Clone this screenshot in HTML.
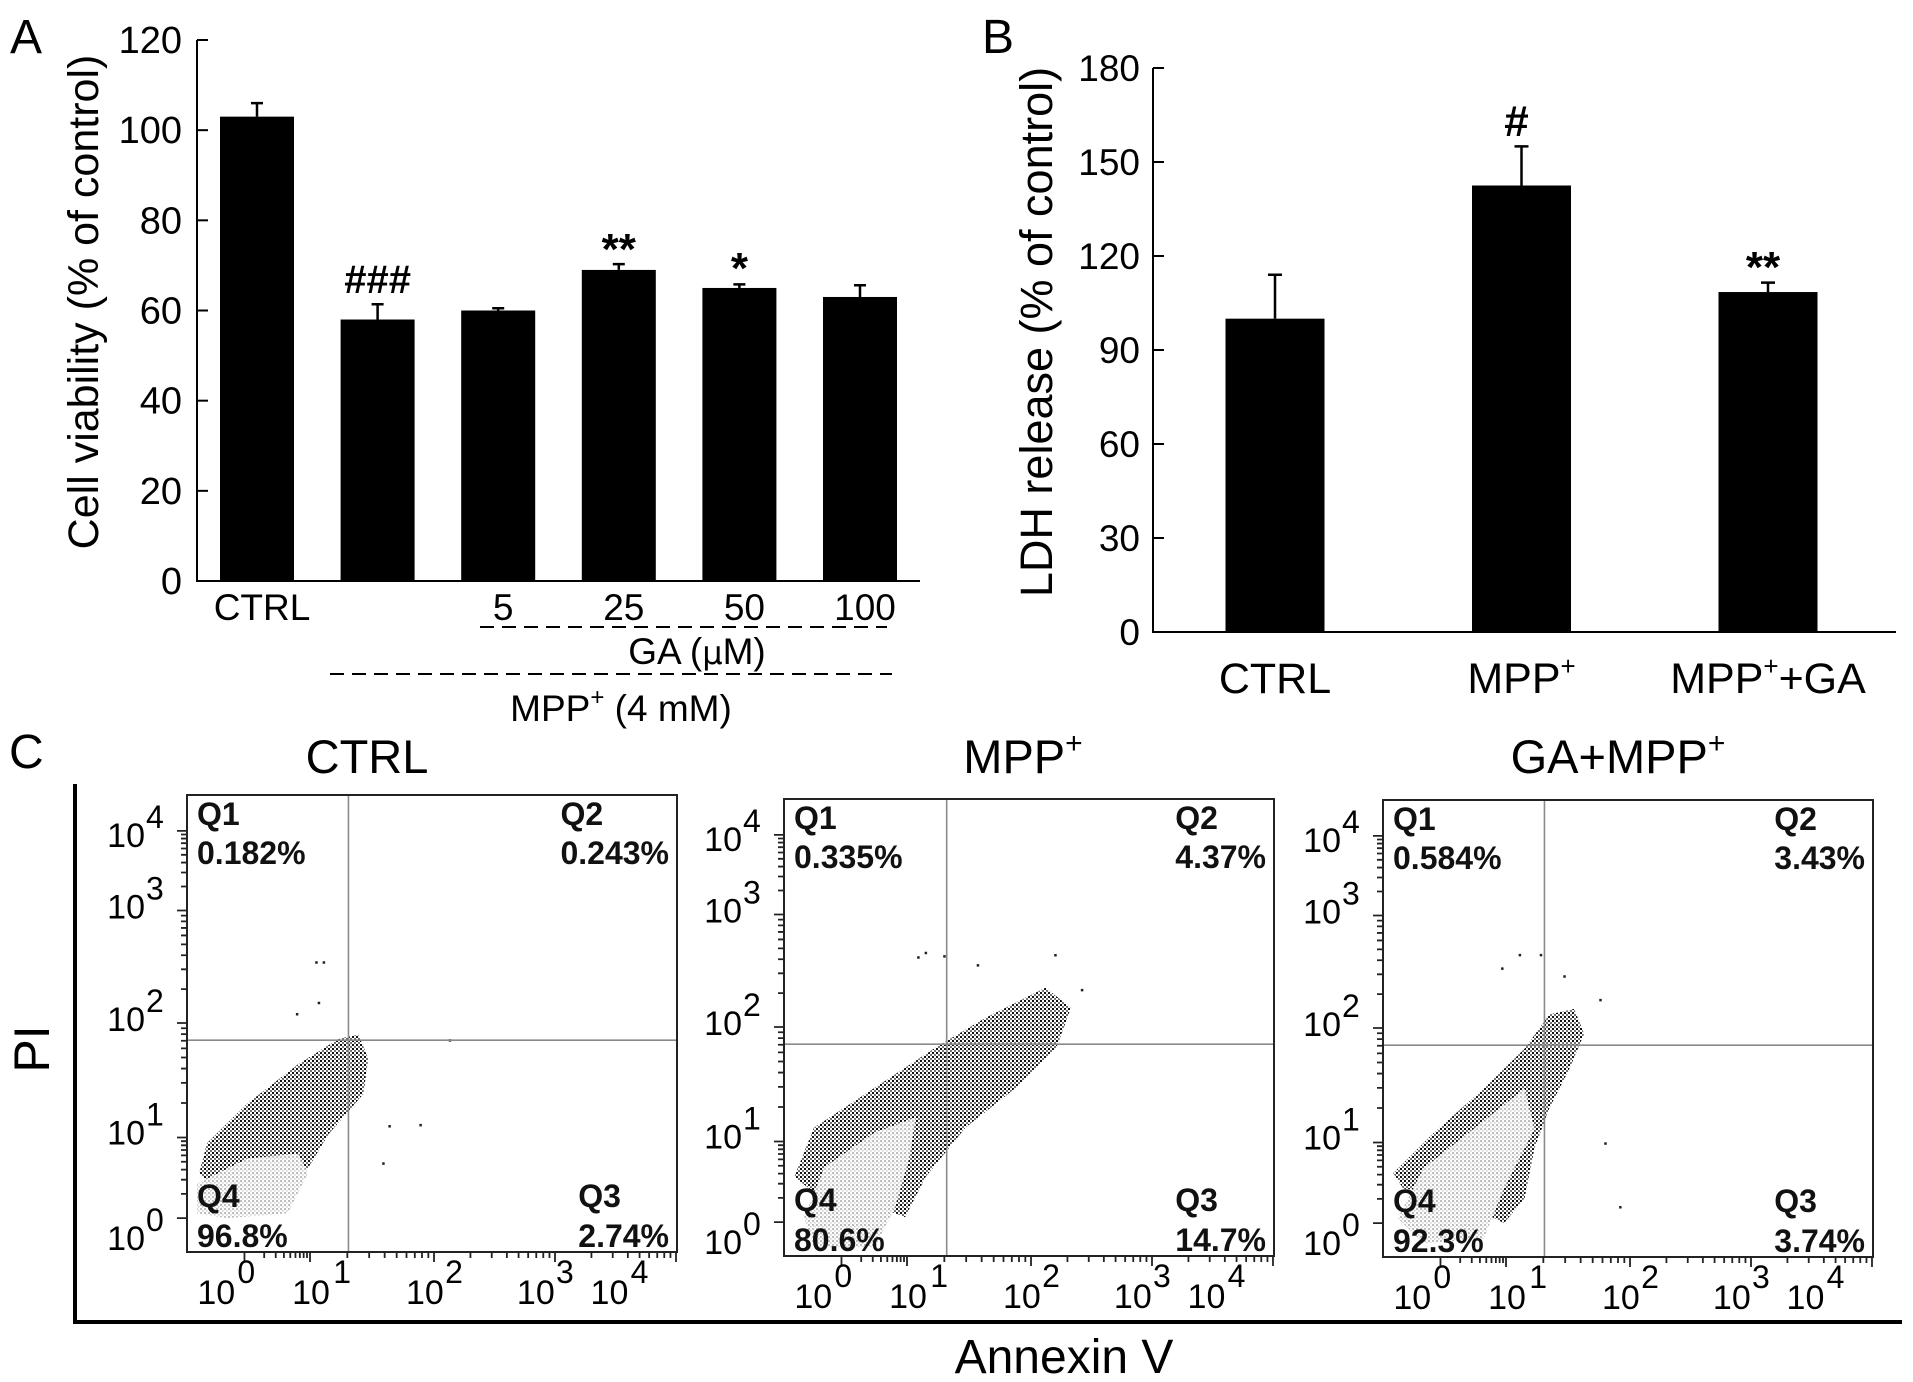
<!DOCTYPE html>
<html><head><meta charset="utf-8"><title>GA / MPP+ figure</title>
<style>
html,body{margin:0;padding:0;background:#fff;}
svg{display:block;font-family:"Liberation Sans",Arial,sans-serif;}
</style></head>
<body>
<svg id="fig" width="1913" height="1382" viewBox="0 0 1913 1382" xmlns="http://www.w3.org/2000/svg">
<defs>
<pattern id="dotsBlack" width="4" height="4" patternUnits="userSpaceOnUse">
<rect x="0" y="0" width="2" height="2" fill="#111"/><rect x="2.2" y="2.2" width="1.6" height="1.6" fill="#222"/>
</pattern>
<pattern id="dotsGray" width="4" height="4" patternUnits="userSpaceOnUse">
<rect x="0" y="0" width="4" height="4" fill="#fff"/><rect x="0" y="0" width="2" height="2" fill="#bdbdbd"/><rect x="2" y="2" width="1.6" height="1.6" fill="#cfcfcf"/>
</pattern>
</defs>
<g id="root"></g>
</svg>
<script>
// ---------- Panel A data ----------
const A_categories = ['CTRL', '', '5', '25', '50', '100'];
const A_values = [103, 58, 60, 69, 65, 63];
const A_errors = [3, 3.4, 0.5, 1.3, 0.8, 2.6];
const A_signif = ['', '###', '', '**', '*', ''];
const A_ticks = [0, 20, 40, 60, 80, 100, 120];
// ---------- Panel B data ----------
const B_categories = ['CTRL', 'MPP+', 'MPP++GA'];
const B_values = [100, 142.5, 108.5];
const B_errors = [14, 12.5, 3];
const B_signif = ['', '#', '**'];
const B_ticks = [0, 30, 60, 90, 120, 150, 180];
// ---------- Panel C data (log10 units) ----------
const C_titles = ['CTRL', 'MPP', 'GA+MPP'];
const C_q1 = ['0.182%', '0.335%', '0.584%'];
const C_q2 = ['0.243%', '4.37%', '3.43%'];
const C_q3 = ['2.74%', '14.7%', '3.74%'];
const C_q4 = ['96.8%', '80.6%', '92.3%'];
const C_decades = [0, 1, 2, 3, 4];
const C_gateX = [1.31, 1.32, 1.31];
const C_gateY = [1.85, 1.85, 1.85];
const C_blackCloud = [
  [[-0.69,0.56],[-0.57,0.93],[0.05,1.30],[0.82,1.64],[1.23,1.86],[1.39,1.90],[1.47,1.69],[1.43,1.38],[1.15,1.03],[0.97,0.62],[0.66,0.31],[0.05,0.37],[-0.49,0.37]],
  [[-0.72,0.56],[-0.42,1.12],[0.51,1.47],[1.23,1.82],[1.63,2.08],[2.12,2.35],[2.33,2.17],[2.21,1.82],[1.88,1.47],[1.47,1.12],[1.15,0.56],[0.97,0.06],[0.2,0.31],[-0.42,0.37]],
  [[-0.72,0.62],[-0.11,1.08],[0.66,1.47],[1.15,1.82],[1.35,2.12],[1.55,2.17],[1.63,1.95],[1.51,1.64],[1.35,1.30],[1.23,0.93],[1.15,0.31],[0.97,0],[0.05,0.37],[-0.57,0.43]]
];
const C_grayCloud = [
  [[-0.72,0.43],[0.05,0.74],[0.82,0.80],[0.97,0.56],[0.66,0.06],[-0.26,0],[-0.72,0.06]],
  [[-0.57,0.06],[-0.26,0.68],[0.51,1.08],[1.07,1.21],[1.02,0.80],[0.82,0.19],[0.51,-0.31],[-0.42,-0.31]],
  [[-0.65,0.06],[-0.26,0.68],[0.51,1.12],[1.15,1.47],[1.23,1.12],[0.97,0.43],[0.66,-0.19],[-0.26,-0.25]]
];
const C_outliersX = [
  [1.05,1.11,1.07,0.80,2.13,1.89,1.59,1.64],
  [1.09,1.15,1.30,1.57,2.20,2.42],
  [1.11,1.28,0.94,1.47,1.76,1.92,1.80]
];
const C_outliersY = [
  [2.54,2.54,2.18,2.08,1.85,1.11,0.68,1.10],
  [2.62,2.66,2.63,2.55,2.64,2.33],
  [2.65,2.65,2.53,2.46,2.25,0.20,0.99]
];

const NS = 'http://www.w3.org/2000/svg';
const root = document.getElementById('root');
function mk(tag, attrs, parent) {
  const e = document.createElementNS(NS, tag);
  for (const k in attrs) e.setAttribute(k, attrs[k]);
  (parent || root).appendChild(e);
  return e;
}
function txt(s, attrs, parent) { const t = mk('text', attrs, parent); t.textContent = s; return t; }

// ================= PANEL A =================
const gA = mk('g', {});


const A_y0 = 581, A_ppu = 541 / 120;
function yA(v) { return A_y0 - v * A_ppu; }
function xA(i) { return 257 + i * 120.6; }
const A_barW = 74;

let l = txt('A', {x: 10, y: 53, 'font-size': 48}, gA);
 

let ax = mk('line', {x1: 197, y1: yA(120), x2: 197, y2: A_y0 + 1, stroke: '#000', 'stroke-width': 2}, gA);
 
ax = mk('line', {x1: 196, y1: A_y0, x2: 920, y2: A_y0, stroke: '#000', 'stroke-width': 2}, gA);
 

A_ticks.forEach(v => {
  const t = mk('line', {x1: 197, y1: yA(v), x2: 208, y2: yA(v), stroke: '#000', 'stroke-width': 2}, gA);
   
  const lb = txt(String(v), {x: 182, y: yA(v) + 13, 'text-anchor': 'end', 'font-size': 38}, gA);
   
});

A_values.forEach((v, i) => {
  const b = mk('rect', {x: xA(i) - A_barW / 2, y: yA(v), width: A_barW, height: A_y0 - yA(v), fill: '#000'}, gA);
  
  
  const top = yA(v + A_errors[i]);
  const eb = mk('path', {d: `M${xA(i)},${yA(v)}V${top}M${xA(i) - 6},${top}H${xA(i) + 6}`, stroke: '#000', 'stroke-width': 2.5, fill: 'none'}, gA);
   
  if (A_categories[i]) {
    const c = txt(A_categories[i], {x: xA(i) + 5, y: 620, 'text-anchor': 'middle', 'font-size': 37}, gA);
     
  }
  if (A_signif[i]) {
    const s = A_signif[i];
    const isStar = s.indexOf('*') >= 0;
    const st = txt(s, {x: xA(i), y: isStar ? (s === '**' ? 264 : 283) : 293, 'text-anchor': 'middle', 'font-size': isStar ? 44 : 40, 'font-weight': 'bold'}, gA);
     
  }
});

const yTitleA = txt('Cell viability (% of control)', {x: 0, y: 0, 'font-size': 43, 'text-anchor': 'middle', transform: 'translate(98,302) rotate(-90)'}, gA);
 

let dl = mk('line', {x1: 480, y1: 627, x2: 887, y2: 627, stroke: '#000', 'stroke-width': 2, 'stroke-dasharray': '14 8'}, gA);
 
let gl = txt('', {x: 697, y: 664, 'text-anchor': 'middle', 'font-size': 37}, gA);
gl.innerHTML = 'GA (<tspan font-family="DejaVu Sans, sans-serif" font-size="32">μ</tspan>M)';
 
dl = mk('line', {x1: 330, y1: 674, x2: 892, y2: 674, stroke: '#000', 'stroke-width': 2, 'stroke-dasharray': '14 8'}, gA);
 
gl = txt('', {x: 621, y: 721, 'text-anchor': 'middle', 'font-size': 37}, gA);
gl.innerHTML = 'MPP<tspan font-size="24" dy="-16">+</tspan><tspan dy="16"> (4 mM)</tspan>';
 

// ================= PANEL B =================
const gB = mk('g', {});


const B_y0 = 632, B_ppu = 564 / 180;
function yB(v) { return B_y0 - v * B_ppu; }
function xB(i) { return 1275 + i * 246.5; }
const B_barW = 99;

l = txt('B', {x: 982, y: 53, 'font-size': 48}, gB);
 
ax = mk('line', {x1: 1153, y1: yB(180), x2: 1153, y2: B_y0 + 1, stroke: '#000', 'stroke-width': 2}, gB);
 
ax = mk('line', {x1: 1152, y1: B_y0, x2: 1896, y2: B_y0, stroke: '#000', 'stroke-width': 2}, gB);
 
B_ticks.forEach(v => {
  const t = mk('line', {x1: 1153, y1: yB(v), x2: 1164, y2: yB(v), stroke: '#000', 'stroke-width': 2}, gB);
   
  const lb = txt(String(v), {x: 1140, y: yB(v) + 13, 'text-anchor': 'end', 'font-size': 37}, gB);
   
});
B_values.forEach((v, i) => {
  const b = mk('rect', {x: xB(i) - B_barW / 2, y: yB(v), width: B_barW, height: B_y0 - yB(v), fill: '#000'}, gB);
  
  
  const top = yB(v + B_errors[i]);
  const eb = mk('path', {d: `M${xB(i)},${yB(v)}V${top}M${xB(i) - 7},${top}H${xB(i) + 7}`, stroke: '#000', 'stroke-width': 2.5, fill: 'none'}, gB);
   
  const c = txt('', {x: xB(i), y: 693, 'text-anchor': 'middle', 'font-size': 43}, gB);
  const s0 = B_categories[i];
  const k = s0.indexOf('+');
  if (k < 0) c.textContent = s0;
  else c.innerHTML = s0.slice(0, k) + '<tspan font-size="26" dy="-18">+</tspan><tspan dy="18">' + s0.slice(k + 1) + '</tspan>';
   
  if (B_signif[i]) {
    const s = B_signif[i];
    const isStar = s === '**';
    const st = txt(s, {x: xB(i) - 5, y: isStar ? 282 : 136, 'text-anchor': 'middle', 'font-size': 44, 'font-weight': 'bold'}, gB);
     
  }
});
const yTitleB = txt('LDH release (% of control)', {x: 0, y: 0, 'font-size': 45, 'text-anchor': 'middle', transform: 'translate(1052,332) rotate(-90)'}, gB);
 

// ================= PANEL C =================
const gC = mk('g', {});


l = txt('C', {x: 9, y: 768, 'font-size': 48}, gC);
 
const bigAx = mk('path', {d: 'M75,784V1322H1902', stroke: '#000', 'stroke-width': 4, fill: 'none'}, gC);
 
const piT = txt('PI', {x: 0, y: 0, 'font-size': 50, 'text-anchor': 'middle', transform: 'translate(49,1049) rotate(-90)'}, gC);
 
const anT = txt('Annexin V', {x: 1064, y: 1373, 'font-size': 48, 'text-anchor': 'middle'}, gC);
 

const C_left = [187, 784, 1383], C_top = [795, 799, 800], C_titleX = [367, 1023, 1618];
const PW = 490, PH = 457;
const xDecPx = [57, 122, 245, 365, 485];
const yDecPx = [425, 344, 229, 116, 36];
function interp(v, px) {
  if (v <= 1) return px[0] + (v - 0) * (px[1] - px[0]);
  const i = Math.min(Math.floor(v), 3);
  return px[i] + (v - i) * (px[i + 1] - px[i]);
}
function xC(p, v) { return C_left[p] + interp(v, xDecPx) * PW / 486; }
function yC(p, v) { return C_top[p] + interp(v, yDecPx) * PH / 459; }
const xLblRel = [29, 123, 236, 346, 419], xSupRel = [50, 145, 256, 366, 440];
const yLblRel = [457, 351, 237, 124, 52];

for (let p = 0; p < 3; p++) {
  const g = mk('g', {}, gC);
  
  
  const L = C_left[p], T = C_top[p];
  const tt = txt('', {x: C_titleX[p], y: 773, 'text-anchor': 'middle', 'font-size': 47}, g);
  tt.innerHTML = p === 0 ? 'CTRL' : C_titles[p] + '<tspan font-size="30" dy="-20">+</tspan>';
   

  const clip = mk('clipPath', {id: 'clip' + p}, g);
  mk('rect', {x: L, y: T, width: PW, height: PH}, clip);
  const cg = mk('g', {'clip-path': `url(#clip${p})`}, g);

  const bc = mk('polygon', {points: C_blackCloud[p].map(q => xC(p, q[0]) + ',' + yC(p, q[1])).join(' '), fill: 'url(#dotsBlack)'}, cg);
   
  const gc = mk('polygon', {points: C_grayCloud[p].map(q => xC(p, q[0]) + ',' + yC(p, q[1])).join(' '), fill: 'url(#dotsGray)'}, cg);
   
  C_outliersX[p].forEach((vx, k) => {
    const d = mk('rect', {x: xC(p, vx) - 1, y: yC(p, C_outliersY[p][k]) - 1, width: 2.5, height: 2.5, fill: '#222'}, cg);
     
  });

  const gx = xC(p, C_gateX[p]), gy = yC(p, C_gateY[p]);
  let q = mk('line', {x1: gx, y1: T, x2: gx, y2: T + PH, stroke: '#8a8a8a', 'stroke-width': 1.6}, g);
   
  q = mk('line', {x1: L, y1: gy, x2: L + PW, y2: gy, stroke: '#8a8a8a', 'stroke-width': 1.6}, g);
   

  const fr = mk('rect', {x: L, y: T, width: PW, height: PH, fill: 'none', stroke: '#222', 'stroke-width': 2}, g);
   

  let td = '';
  C_decades.forEach(dv => {
    td += `M${xC(p, dv)},${T + PH}v10M${L},${yC(p, dv)}h-10`;
    if (dv < 4) for (let m = 2; m < 10; m++) {
      const f = dv + Math.log10(m);
      td += `M${xC(p, f)},${T + PH}v6M${L},${yC(p, f)}h-6`;
    }
  });
  const tk = mk('path', {d: td, stroke: '#222', 'stroke-width': 1.8, fill: 'none'}, g);
   

  C_decades.forEach((dv, k) => {
    const xl = txt('10', {x: L + xLblRel[k] * PW / 486, y: T + PH + 52, 'text-anchor': 'middle', 'font-size': 34}, g);
     
    const xs = txt(String(dv), {x: L + xSupRel[k] * PW / 486, y: T + PH + 31, 'font-size': 32}, g);
     
    const yl = txt('10', {x: L - 42, y: T + yLblRel[k] * PH / 459, 'text-anchor': 'end', 'font-size': 34}, g);
     
    const ys = txt(String(dv), {x: L - 41, y: T + yLblRel[k] * PH / 459 - 19, 'font-size': 32}, g);
     
  });

  const qs = {'font-size': 32, 'font-weight': 'bold', fill: '#111'};
  function qt(s, x, y, anchor, name) {
    const t = txt(s, Object.assign({x: x, y: y, 'text-anchor': anchor}, qs), g);
     
    return t;
  }
  qt('Q1', L + 10, T + 30, 'start', 'q1-label');
  qt(C_q1[p], L + 10, T + 69, 'start', 'q1-percent');
  qt('Q4', L + 10, T + 412, 'start', 'q4-label');
  qt(C_q4[p], L + 10, T + 452, 'start', 'q4-percent');
  const p2 = qt(C_q2[p], L + PW - 8, T + 69, 'end', 'q2-percent');
  const p3 = qt(C_q3[p], L + PW - 8, T + 452, 'end', 'q3-percent');
  const w2 = p2.getComputedTextLength(), w3 = p3.getComputedTextLength();
  qt('Q2', L + PW - 8 - w2, T + 30, 'start', 'q2-label');
  qt('Q3', L + PW - 8 - w3, T + 412, 'start', 'q3-label');
}
</script>
</body></html>
